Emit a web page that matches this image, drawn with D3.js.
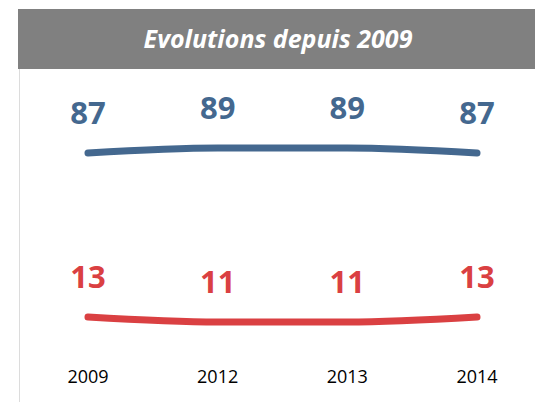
<!DOCTYPE html>
<html>
<head>
<meta charset="utf-8">
<script src="https://cdn.jsdelivr.net/npm/d3@7"></script>
<style>
  body { margin: 0; background: #fff; }
  svg { display: block; }
</style>
</head>
<body>
<div id="chart"></div>
<script>
const years = ["2009", "2012", "2013", "2014"];
const blueValues = [87, 89, 89, 87];
const redValues = [13, 11, 11, 13];
const title = "Evolutions depuis 2009";

const width = 535;
const height = 402;

const svg = d3
	.select("#chart")
	.append("svg")
	.attr("width", width)
	.attr("height", height);

// title bar
svg.append("rect")
	.attr("x", 18)
	.attr("y", 9)
	.attr("width", width - 18)
	.attr("height", 60)
	.attr("fill", "#808080");

svg.append("text")
	.attr("x", 278)
	.attr("y", 48)
	.attr("text-anchor", "middle")
	.style("font-family", "'Open Sans', sans-serif")
	.style("font-weight", "bold")
	.style("font-style", "italic")
	.style("font-size", "25px")
	.style("fill", "#fff")
	.text(title);

// left border
svg.append("line")
	.attr("x1", 19.5)
	.attr("x2", 19.5)
	.attr("y1", 69)
	.attr("y2", height)
	.attr("stroke", "#dcdcdc")
	.attr("stroke-width", 1);

const x = d3.scalePoint().domain(years).range([88, 477]);

// each series gets its own band, same px per unit
const yBlue = d3.scaleLinear().domain([80, 100]).range([170.5, 120.5]);
const yRed = d3.scaleLinear().domain([0, 20]).range([349.5, 299.5]);

const series = [
	{ values: blueValues, y: yBlue, color: "#44688f" },
	{ values: redValues, y: yRed, color: "#da4042" },
];

series.forEach((s) => {
	const pts = years.map((yr, i) => ({ year: yr, value: s.values[i] }));
	const line = d3
		.line()
		.x((d) => x(d.year))
		.y((d) => s.y(d.value))
		.curve(d3.curveMonotoneX);

	svg.append("path")
		.datum(pts)
		.attr("d", line)
		.attr("fill", "none")
		.attr("stroke", s.color)
		.attr("stroke-width", 7)
		.attr("stroke-linecap", "round");

	svg.selectAll(null)
		.data(pts)
		.enter()
		.append("text")
		.attr("x", (d) => x(d.year))
		.attr("y", (d) => s.y(d.value) - 29)
		.attr("text-anchor", "middle")
		.style("font-family", "'Open Sans', sans-serif")
		.style("font-weight", "bold")
		.style("font-size", "31px")
		.style("fill", s.color)
		.text((d) => d.value);
});

// year labels
svg.selectAll(null)
	.data(years)
	.enter()
	.append("text")
	.attr("x", (d) => x(d))
	.attr("y", 383)
	.attr("text-anchor", "middle")
	.style("font-family", "'Open Sans', sans-serif")
	.style("font-size", "18px")
	.style("fill", "#000")
	.text((d) => d);
</script>
</body>
</html>
